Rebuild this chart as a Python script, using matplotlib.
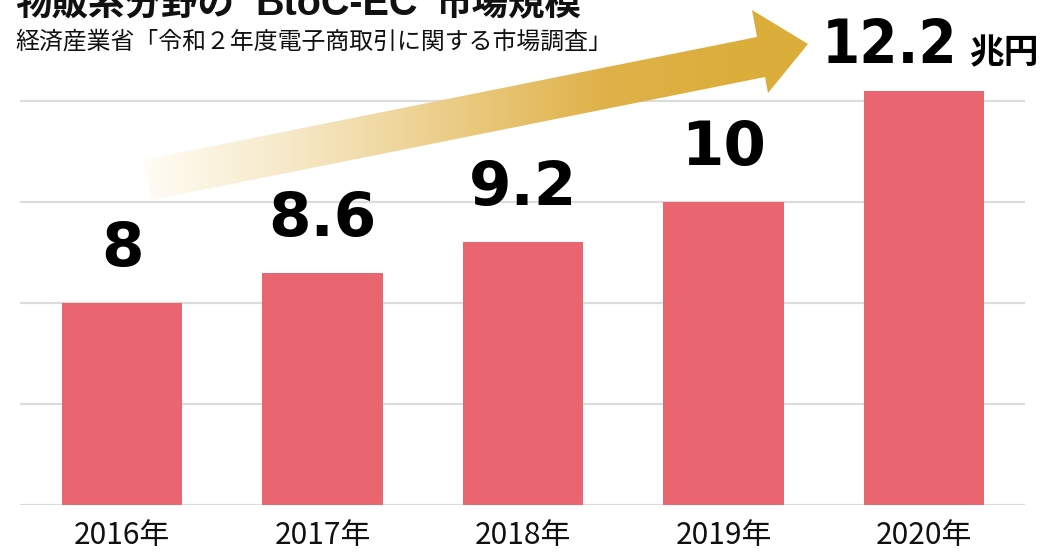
import numpy as np
import matplotlib
matplotlib.use("Agg")
import matplotlib.pyplot as plt
from matplotlib.patches import Polygon
from matplotlib.colors import LinearSegmentedColormap

# ---- data ----
years = ["2016年", "2017年", "2018年", "2019年", "2020年"]
values = [8, 8.6, 9.2, 10, 12.2]
value_labels = ["8", "8.6", "9.2", "10", "12.2"]
unit_label = "兆円"
title_parts = ["物販系分野の", "BtoC-EC", "市場規模"]   # title: 物販系分野の BtoC-EC 市場規模
subtitle = "経済産業省「令和２年度電子商取引に関する市場調査」"

W, H = 1061, 552
fig = plt.figure(figsize=(W / 100, H / 100), dpi=100)
fig.patch.set_facecolor("white")
CJK = ["Noto Sans CJK JP", "DejaVu Sans"]

# main axes (pixel geometry of the reference)
ax_left, ax_right, ax_bottom, ax_top = 20, 1025, 505, 5
ax = fig.add_axes([ax_left / W, 1 - ax_bottom / H, (ax_right - ax_left) / W, (ax_bottom - ax_top) / H])
ppu = 50.5
ax.set_ylim(4, 4 + (ax_bottom - ax_top) / ppu)
ax.set_xlim(-0.509, 4.504)

bar_color = "#E9656F"
x = np.arange(len(values))
ax.bar(x, [v - 4 for v in values], bottom=4, width=0.6, color=bar_color, zorder=2)

for gy in [4, 6, 8, 10, 12]:
    ax.axhline(gy, color="#DCDCDC", lw=1.6, zorder=1)

for s in ax.spines.values():
    s.set_visible(False)
ax.set_yticks([])
ax.set_xticks(x)
ax.set_xticklabels(years, fontsize=21.5, family=CJK, color="#111111")
ax.tick_params(axis="x", length=0, pad=11)

# value labels
for i in range(len(values) - 1):
    ax.annotate(value_labels[i], xy=(x[i], values[i]), xytext=(0, 37 * 0.72),
                textcoords="offset points", ha="center", va="baseline",
                fontsize=44, fontweight="bold", family="DejaVu Sans", color="black", zorder=5)
i = len(values) - 1
ax.annotate(value_labels[i], xy=(x[i], values[i]), xytext=(33 * 0.72, 28 * 0.72),
            textcoords="offset points", ha="right", va="baseline",
            fontsize=44, fontweight="bold", fontstretch="condensed", family="DejaVu Sans",
            color="black", zorder=5)
ax.annotate(unit_label, xy=(x[i], values[i]), xytext=(45 * 0.72, 28 * 0.72),
            textcoords="offset points", ha="left", va="baseline",
            fontsize=25, fontweight="bold", family=CJK, color="black", zorder=5)

# titles
ty = 1 - 15 / H
fig.text(15 / W, ty, title_parts[0], ha="left", va="baseline", fontsize=26.3, fontweight="bold",
         family=CJK, color="#111111")
fig.text(255 / W, ty, title_parts[1], ha="left", va="baseline", fontsize=28.5, fontweight="bold",
         family=["Liberation Sans", "DejaVu Sans"], color="#111111")
fig.text(435 / W, ty, title_parts[2], ha="left", va="baseline", fontsize=26.3, fontweight="bold",
         family=CJK, color="#111111")
fig.text(15 / W, 1 - 49 / H, subtitle, ha="left", va="baseline", fontsize=17.2,
         family=CJK, color="#111111")

# gradient arrow (decoration)
ov = fig.add_axes([0, 0, 1, 1], zorder=3)
ov.set_xlim(0, W)
ov.set_ylim(H, 0)
ov.axis("off")
ov.patch.set_alpha(0)
pts = [(143, 160), (757, 37), (752, 10), (808, 44), (768, 93), (765, 77), (152, 200)]
poly = Polygon(pts, closed=True, facecolor="none", edgecolor="none", transform=ov.transData)
ov.add_patch(poly)
cmap = LinearSegmentedColormap.from_list(
    "gold",
    [(0.0, "#FFFDF6"), (0.25, "#F6E8C6"), (0.5, "#EBCD87"), (0.75, "#DFB249"), (1.0, "#DBAD3A")])
grad = np.clip(np.linspace(0, 1, 600) / 0.92, 0, 1)
img = ov.imshow(np.tile(grad, (10, 1)), cmap=cmap, extent=(140, 810, 205, 5),
                aspect="auto", interpolation="bilinear")
img.set_clip_path(poly)

fig.savefig("out.png", dpi=100, facecolor="white")
